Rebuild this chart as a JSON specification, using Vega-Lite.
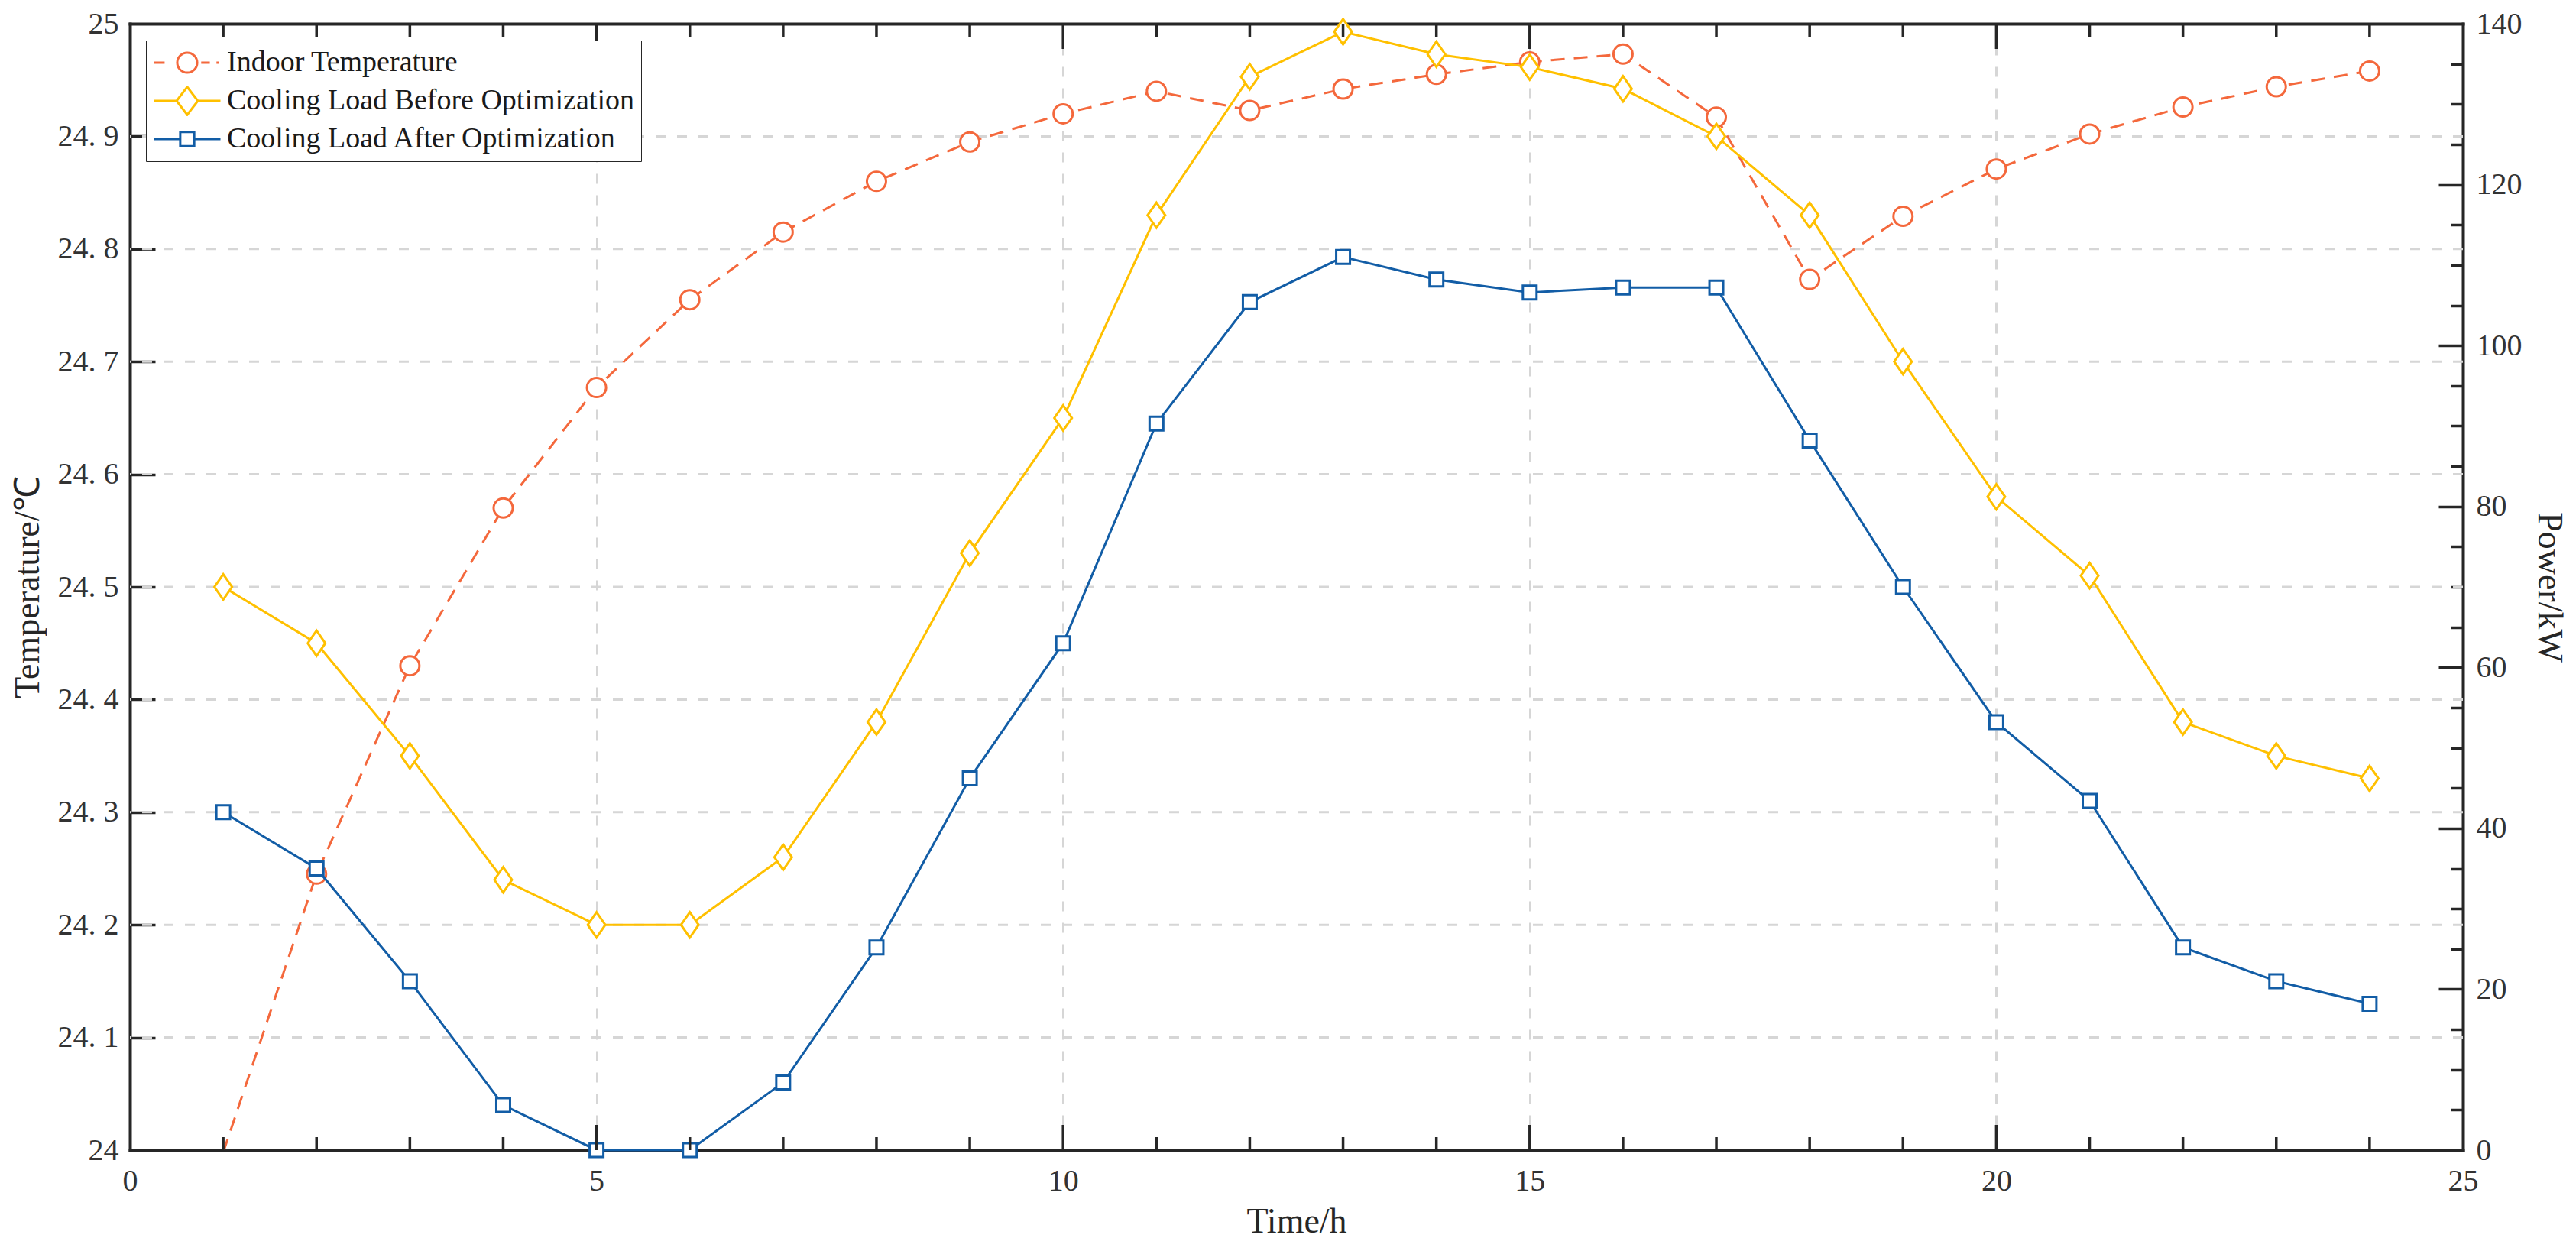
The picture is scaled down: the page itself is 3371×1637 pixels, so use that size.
{
  "$schema": "https://vega.github.io/schema/vega-lite/v6.json",
  "width": 3053,
  "height": 1474,
  "autosize": {"type": "none"},
  "padding": {"left": 170, "top": 31, "right": 148, "bottom": 132},
  "background": "white",
  "config": {
    "view": {"stroke": null},
    "axis": {
      "labelFont": "Liberation Serif", "labelFontSize": 40, "labelColor": "#333333",
      "titleFont": "Liberation Serif", "titleFontSize": 46, "titleFontWeight": "normal", "titleColor": "#262626",
      "domainColor": "#262626", "domainWidth": 4, "domainCap": "square",
      "ticks": false, "tickSize": 0,
      "gridColor": "#D6D6D6", "gridDash": [13, 15], "gridWidth": 3,
      "labelFlush": false, "labelOverlap": false
    },
    "legend": {
      "orient": "none", "legendX": 21, "legendY": 22, "direction": "vertical",
      "padding": 9, "fillColor": "white", "strokeColor": "#262626",
      "symbolSize": 7569, "symbolStrokeWidth": 3, "clipHeight": 40, "rowPadding": 10,
      "labelFont": "Liberation Serif", "labelFontSize": 38, "labelColor": "#1a1a1a", "labelOffset": 7, "labelLimit": 0
    }
  },
  "data": {"values": [
    {"h":1,"s":"Indoor Temperature","v":23.998},{"h":2,"s":"Indoor Temperature","v":24.245},{"h":3,"s":"Indoor Temperature","v":24.43},{"h":4,"s":"Indoor Temperature","v":24.57},
    {"h":5,"s":"Indoor Temperature","v":24.677},{"h":6,"s":"Indoor Temperature","v":24.755},{"h":7,"s":"Indoor Temperature","v":24.815},{"h":8,"s":"Indoor Temperature","v":24.86},
    {"h":9,"s":"Indoor Temperature","v":24.895},{"h":10,"s":"Indoor Temperature","v":24.92},{"h":11,"s":"Indoor Temperature","v":24.94},{"h":12,"s":"Indoor Temperature","v":24.923},
    {"h":13,"s":"Indoor Temperature","v":24.942},{"h":14,"s":"Indoor Temperature","v":24.955},{"h":15,"s":"Indoor Temperature","v":24.966},{"h":16,"s":"Indoor Temperature","v":24.973},
    {"h":17,"s":"Indoor Temperature","v":24.917},{"h":18,"s":"Indoor Temperature","v":24.773},{"h":19,"s":"Indoor Temperature","v":24.829},{"h":20,"s":"Indoor Temperature","v":24.871},
    {"h":21,"s":"Indoor Temperature","v":24.902},{"h":22,"s":"Indoor Temperature","v":24.926},{"h":23,"s":"Indoor Temperature","v":24.944},{"h":24,"s":"Indoor Temperature","v":24.958},
    {"h":1,"s":"Cooling Load Before Optimization","v":70},{"h":2,"s":"Cooling Load Before Optimization","v":63},{"h":3,"s":"Cooling Load Before Optimization","v":49},{"h":4,"s":"Cooling Load Before Optimization","v":33.6},
    {"h":5,"s":"Cooling Load Before Optimization","v":28},{"h":6,"s":"Cooling Load Before Optimization","v":28},{"h":7,"s":"Cooling Load Before Optimization","v":36.4},{"h":8,"s":"Cooling Load Before Optimization","v":53.2},
    {"h":9,"s":"Cooling Load Before Optimization","v":74.2},{"h":10,"s":"Cooling Load Before Optimization","v":91},{"h":11,"s":"Cooling Load Before Optimization","v":116.2},{"h":12,"s":"Cooling Load Before Optimization","v":133.4},
    {"h":13,"s":"Cooling Load Before Optimization","v":139},{"h":14,"s":"Cooling Load Before Optimization","v":136.2},{"h":15,"s":"Cooling Load Before Optimization","v":134.6},{"h":16,"s":"Cooling Load Before Optimization","v":131.9},
    {"h":17,"s":"Cooling Load Before Optimization","v":126},{"h":18,"s":"Cooling Load Before Optimization","v":116.2},{"h":19,"s":"Cooling Load Before Optimization","v":98},{"h":20,"s":"Cooling Load Before Optimization","v":81.2},
    {"h":21,"s":"Cooling Load Before Optimization","v":71.4},{"h":22,"s":"Cooling Load Before Optimization","v":53.2},{"h":23,"s":"Cooling Load Before Optimization","v":49},{"h":24,"s":"Cooling Load Before Optimization","v":46.2},
    {"h":1,"s":"Cooling Load After Optimization","v":42},{"h":2,"s":"Cooling Load After Optimization","v":35},{"h":3,"s":"Cooling Load After Optimization","v":21},{"h":4,"s":"Cooling Load After Optimization","v":5.6},
    {"h":5,"s":"Cooling Load After Optimization","v":0},{"h":6,"s":"Cooling Load After Optimization","v":0},{"h":7,"s":"Cooling Load After Optimization","v":8.4},{"h":8,"s":"Cooling Load After Optimization","v":25.2},
    {"h":9,"s":"Cooling Load After Optimization","v":46.2},{"h":10,"s":"Cooling Load After Optimization","v":63},{"h":11,"s":"Cooling Load After Optimization","v":90.3},{"h":12,"s":"Cooling Load After Optimization","v":105.4},
    {"h":13,"s":"Cooling Load After Optimization","v":111},{"h":14,"s":"Cooling Load After Optimization","v":108.2},{"h":15,"s":"Cooling Load After Optimization","v":106.6},{"h":16,"s":"Cooling Load After Optimization","v":107.2},
    {"h":17,"s":"Cooling Load After Optimization","v":107.2},{"h":18,"s":"Cooling Load After Optimization","v":88.2},{"h":19,"s":"Cooling Load After Optimization","v":70},{"h":20,"s":"Cooling Load After Optimization","v":53.2},
    {"h":21,"s":"Cooling Load After Optimization","v":43.4},{"h":22,"s":"Cooling Load After Optimization","v":25.2},{"h":23,"s":"Cooling Load After Optimization","v":21},{"h":24,"s":"Cooling Load After Optimization","v":18.2}
  ]},
  "layer": [
    {
      "transform": [{"filter": "datum.s === 'Indoor Temperature' && datum.h <= 9"}],
      "mark": {"type": "rule", "color": "#D6D6D6", "strokeWidth": 3, "strokeDash": [13, 15]},
      "encoding": {
        "y": {"field": "h", "type": "quantitative", "scale": {"domain": [0, 10], "nice": false, "zero": false}, "axis": null}
      }
    },
    {
      "transform": [{"filter": "datum.s === 'Indoor Temperature'"}],
      "mark": {"type": "line", "strokeWidth": 3, "strokeDash": [18, 12], "clip": true},
      "encoding": {
        "x": {"field": "h", "type": "quantitative", "scale": {"domain": [0, 25], "nice": false, "zero": false},
          "axis": {"orient": "bottom", "title": "Time/h", "titleY": 71,
            "values": [0, 5, 10, 15, 20, 25], "labelPadding": 20, "grid": true,
            "gridOpacity": {"condition": {"test": "datum.value > 0 && datum.value < 25", "value": 1}, "value": 0}}},
        "y": {"field": "v", "type": "quantitative", "scale": {"domain": [24, 25], "nice": false, "zero": false}, "axis": null},
        "stroke": {"field": "s", "type": "nominal",
          "scale": {"domain": ["Indoor Temperature", "Cooling Load Before Optimization", "Cooling Load After Optimization"], "range": ["#F4683C", "#FFC000", "#125DA6"]},
          "legend": null}
      }
    },
    {
      "transform": [{"filter": "datum.s === 'Indoor Temperature' && datum.v >= 24"}],
      "mark": {"type": "point", "shape": "circle", "size": 625, "filled": true, "color": "white", "strokeWidth": 3, "opacity": 1},
      "encoding": {
        "x": {"field": "h", "type": "quantitative", "scale": {"domain": [0, 25], "nice": false, "zero": false},
          "axis": {"orient": "top", "title": null, "labels": false, "domain": true, "grid": false, "values": [0, 25]}},
        "y": {"field": "v", "type": "quantitative", "scale": {"domain": [24, 25], "nice": false, "zero": false}, "axis": null},
        "stroke": {"field": "s", "type": "nominal",
          "scale": {"domain": ["Indoor Temperature", "Cooling Load Before Optimization", "Cooling Load After Optimization"], "range": ["#F4683C", "#FFC000", "#125DA6"]},
          "legend": null}
      }
    },
    {
      "transform": [{"filter": "datum.s !== 'Indoor Temperature'"}],
      "mark": {"type": "line", "strokeWidth": 3},
      "encoding": {
        "x": {"field": "h", "type": "quantitative", "scale": {"domain": [0, 25], "nice": false, "zero": false}, "axis": null},
        "y": {"field": "v", "type": "quantitative", "scale": {"domain": [0, 140], "nice": false, "zero": false},
          "axis": {"orient": "right", "title": "Power/kW",
            "values": [0, 5, 10, 14, 15, 20, 25, 28, 30, 35, 40, 42, 45, 50, 55, 56, 60, 65, 70, 75, 80, 84, 85, 90, 95, 98, 100, 105, 110, 112, 115, 120, 125, 126, 130, 135, 140],
            "labelExpr": "datum.value % 20 === 0 ? datum.label : ''",
            "labelPadding": 17, "titlePadding": 11,
            "grid": true, "gridColor": "#262626", "gridWidth": 3.5,
            "gridDash": {"condition": [
                {"test": "datum.value === 70", "value": [16, 3004, 33, 6000]},
                {"test": "datum.value % 20 === 0", "value": [32, 6000]},
                {"test": "datum.value % 5 === 0", "value": [16, 6000]}
              ], "value": [0, 3020, 33, 6000]},
            "gridOpacity": {"condition": {"test": "datum.value > 0 && datum.value < 140", "value": 1}, "value": 0}}},
        "stroke": {"field": "s", "type": "nominal",
          "scale": {"domain": ["Indoor Temperature", "Cooling Load Before Optimization", "Cooling Load After Optimization"], "range": ["#F4683C", "#FFC000", "#125DA6"]},
          "legend": null}
      }
    },
    {
      "transform": [{"filter": "datum.s !== 'Indoor Temperature'"}],
      "mark": {"type": "point", "size": 1296, "filled": true, "color": "white", "strokeWidth": 3, "opacity": 1},
      "encoding": {
        "x": {"field": "h", "type": "quantitative", "scale": {"domain": [0, 25], "nice": false, "zero": false}, "axis": null},
        "y": {"field": "v", "type": "quantitative", "scale": {"domain": [0, 140], "nice": false, "zero": false}, "axis": null},
        "stroke": {"field": "s", "type": "nominal",
          "scale": {"domain": ["Indoor Temperature", "Cooling Load Before Optimization", "Cooling Load After Optimization"], "range": ["#F4683C", "#FFC000", "#125DA6"]},
          "legend": null},
        "shape": {"field": "s", "type": "nominal",
          "scale": {"domain": ["Cooling Load Before Optimization", "Cooling Load After Optimization"], "range": ["M0,-0.92L0.64,0L0,0.92L-0.64,0Z", "M-0.5,-0.5H0.5V0.5H-0.5Z"]},
          "legend": null}
      }
    },
    {
      "transform": [{"filter": "datum.s === 'Indoor Temperature' && datum.h % 5 !== 0"}],
      "mark": {"type": "rule", "color": "#262626", "strokeWidth": 3.5, "strokeDash": [17, 1440, 17, 6000]},
      "encoding": {
        "x": {"field": "h", "type": "quantitative", "scale": {"domain": [0, 25], "nice": false, "zero": false}, "axis": null}
      }
    },
    {
      "transform": [{"filter": "datum.s === 'Indoor Temperature' && datum.h % 5 === 0"}],
      "mark": {"type": "rule", "color": "#262626", "strokeWidth": 3.5, "strokeDash": [33, 1408, 33, 6000]},
      "encoding": {
        "x": {"field": "h", "type": "quantitative", "scale": {"domain": [0, 25], "nice": false, "zero": false}, "axis": null}
      }
    },
    {
      "transform": [{"filter": "datum.h > 100"}],
      "mark": {"type": "point", "filled": false, "strokeWidth": 3, "opacity": 1},
      "encoding": {
        "x": {"field": "h", "type": "quantitative", "scale": {"domain": [0, 25], "nice": false, "zero": false}, "axis": null},
        "y": {"field": "v", "type": "quantitative", "scale": {"domain": [24, 25], "nice": false, "zero": false},
          "axis": {"orient": "left", "title": "Temperature/℃",
            "values": [24, 24.1, 24.2, 24.3, 24.4, 24.5, 24.6, 24.7, 24.8, 24.9, 25],
            "labelExpr": "replace(format(datum.value, '.1~f'), '.', '. ')",
            "labelPadding": 15, "titlePadding": 15, "grid": false}},
        "color": {"field": "s", "type": "nominal",
          "scale": {"domain": ["Indoor Temperature", "Cooling Load Before Optimization", "Cooling Load After Optimization"], "range": ["#F4683C", "#FFC000", "#125DA6"]},
          "legend": {"title": null}},
        "shape": {"field": "s", "type": "nominal",
          "scale": {"domain": ["Indoor Temperature", "Cooling Load Before Optimization", "Cooling Load After Optimization"],
            "range": [
              "M-1,0H-0.68M0.3,0A0.3,0.3,0,1,1,-0.3,0A0.3,0.3,0,1,1,0.3,0M0.42,0H0.68M0.88,0H0.96",
              "M-1,0H-0.32M0.32,0H1M0,-0.42L0.32,0L0,0.42L-0.32,0Z",
              "M-1,0H-0.21M0.21,0H1M-0.21,-0.21H0.21V0.21H-0.21Z"]},
          "legend": {"title": null}}
      }
    }
  ],
  "resolve": {"scale": {"y": "independent", "shape": "independent", "color": "independent"}, "axis": {"x": "independent", "y": "independent"}}
}
